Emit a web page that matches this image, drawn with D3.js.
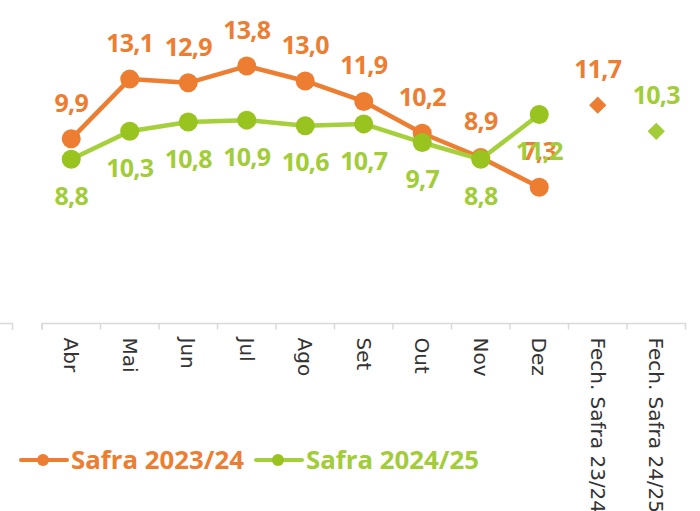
<!DOCTYPE html>
<html><head><meta charset="utf-8">
<script src="https://cdn.jsdelivr.net/npm/d3@7/dist/d3.min.js"></script>
<style>
html,body{margin:0;padding:0;background:#fff;}
svg{display:block;}
</style></head>
<body>
<svg id="chart" width="700" height="511"></svg>
<script>
const categories = ["Abr","Mai","Jun","Jul","Ago","Set","Out","Nov","Dez","Fech. Safra 23/24","Fech. Safra 24/25"];
const months = ["Abr","Mai","Jun","Jul","Ago","Set","Out","Nov","Dez"];
const safra2324 = [9.9,13.1,12.9,13.8,13.0,11.9,10.2,8.9,7.3];
const safra2425 = [8.8,10.3,10.8,10.9,10.6,10.7,9.7,8.8,11.2];
const fechamento = [
  {cat:"Fech. Safra 23/24", value:11.7, series:"Safra 2023/24"},
  {cat:"Fech. Safra 24/25", value:10.3, series:"Safra 2024/25"}
];
const seriesNames = ["Safra 2023/24","Safra 2024/25"];

const ORANGE = "#ED7D31";
const GREEN_LINE = "#A5CF3B";
const GREEN_MARK = "#99C31E";
const GREEN_TEXT = "#A2CC38";
const LABEL_FONT = "'Open Sans', sans-serif";

const svg = d3.select("#chart");
const x = d3.scaleBand().domain(categories).range([42, 685.5]).padding(0);
const y = d3.scaleLinear().domain([0, 16]).range([323.5, 25]);
const cx = c => x(c) + x.bandwidth()/2;

// left axis fragment
svg.append("path").attr("d","M0,323.5H12.5V330").attr("fill","none").attr("stroke","#d9d9d9").attr("stroke-width",1.5);

// x axis
const xAxis = d3.axisBottom(x).tickSize(6).tickSizeOuter(6);
const gx = svg.append("g").attr("transform","translate(0,323.5)").call(xAxis);
gx.select(".domain").attr("stroke","#d9d9d9").attr("stroke-width",1.5)
  .attr("d", `M42,6V0H685.5V6`);
gx.selectAll(".tick line").attr("stroke","#d9d9d9").attr("stroke-width",1.5)
  .attr("transform", `translate(${-x.bandwidth()/2},0)`);
gx.selectAll(".tick text")
  .attr("font-family","'DejaVu Sans', sans-serif").attr("font-size",20).attr("fill","#333")
  .attr("transform","rotate(90)").attr("x",14).attr("y",0).attr("dy","0.35em")
  .attr("text-anchor","start");

// lines
const line = d3.line().x((d,i)=>cx(months[i])).y(d=>y(d));
svg.append("path").datum(safra2324).attr("d",line).attr("fill","none").attr("stroke",ORANGE).attr("stroke-width",4.5).attr("stroke-linejoin","round");
svg.append("g").selectAll("circle").data(safra2324).join("circle")
  .attr("cx",(d,i)=>cx(months[i])).attr("cy",d=>y(d)).attr("r",9.5).attr("fill",ORANGE);

svg.append("path").datum(safra2425).attr("d",line).attr("fill","none").attr("stroke",GREEN_LINE).attr("stroke-width",4.5).attr("stroke-linejoin","round");
svg.append("g").selectAll("circle").data(safra2425).join("circle")
  .attr("cx",(d,i)=>cx(months[i])).attr("cy",d=>y(d)).attr("r",9.5).attr("fill",GREEN_MARK);

// diamonds
const diamond = d3.symbol().type(d3.symbolDiamond2).size(190);
svg.append("g").selectAll("path").data(fechamento).join("path")
  .attr("d",diamond)
  .attr("transform",d=>`translate(${cx(d.cat)},${y(d.value)})`)
  .attr("fill",d=>d.series===seriesNames[0]?ORANGE:GREEN_TEXT);

const fmt = v => v.toFixed(1).replace(".",",");
function labels(data, getX, color, dy){
  svg.append("g").selectAll("text").data(data).join("text")
    .attr("x",getX).attr("y",d=>y(d.v)+dy).attr("dy","0.35em")
    .attr("text-anchor","middle").attr("font-family",LABEL_FONT).attr("font-weight","bold")
    .attr("font-size",25).attr("letter-spacing",-0.8).attr("fill",color).text(d=>fmt(d.v));
}
labels(safra2324.map((v,i)=>({v,i})), d=>cx(months[d.i]), ORANGE, -36);
labels([{v:fechamento[0].value}], ()=>cx(fechamento[0].cat), ORANGE, -36);
labels(safra2425.map((v,i)=>({v,i})), d=>cx(months[d.i]), GREEN_TEXT, 37);
labels([{v:fechamento[1].value}], ()=>cx(fechamento[1].cat), GREEN_TEXT, -36);

// legend
const legend = svg.append("g").attr("transform","translate(0,460)");
const legItems = [{name:seriesNames[0],color:ORANGE,mark:ORANGE,x:20},{name:seriesNames[1],color:GREEN_LINE,mark:GREEN_MARK,x:255}];
legItems.forEach(it=>{
  const g = legend.append("g").attr("transform",`translate(${it.x},0)`);
  g.append("line").attr("x1",1).attr("x2",47).attr("stroke",it.color).attr("stroke-width",4).attr("stroke-linecap","round");
  g.append("circle").attr("cx",23).attr("r",6).attr("fill",it.mark);
  g.append("text").attr("x",51).attr("dy","0.35em").attr("font-family",LABEL_FONT).attr("font-weight","bold")
    .attr("font-size",25.8).attr("fill",it.name===seriesNames[0]?ORANGE:GREEN_TEXT).text(it.name);
});
</script>
</body></html>
